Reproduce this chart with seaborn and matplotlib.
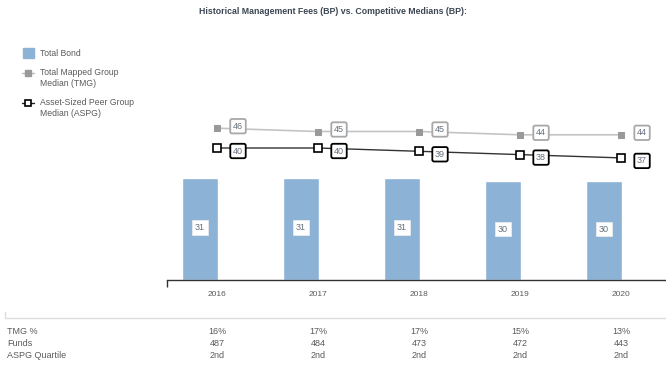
import matplotlib
matplotlib.use('Agg')
import matplotlib.pyplot as plt
import seaborn as sns
import numpy as np
from matplotlib.lines import Line2D
from matplotlib.patches import Rectangle

years = ['2016', '2017', '2018', '2019', '2020']
total_bond = [31, 31, 31, 30, 30]
tmg_median = [46, 45, 45, 44, 44]
aspg_median = [40, 40, 39, 38, 37]

table_rows = ['TMG %', 'Funds', 'ASPG Quartile']
tmg_pct = ['16%', '17%', '17%', '15%', '13%']
funds = ['487', '484', '473', '472', '443']
aspg_quartile = ['2nd', '2nd', '2nd', '2nd', '2nd']

BAR_COLOR = '#8cb3d6'
TEXT_COLOR = '#5a5a5a'
LABEL_COLOR = '#66707c'
W, H = 666, 368


def px(x, y):
    """pixel position -> figure fraction"""
    return x / W, 1 - y / H


def draw_legend(fig):
    fig.patches.append(Rectangle(px(23, 58), 11 / W, 10 / H, color=BAR_COLOR,
                                 transform=fig.transFigure))
    fig.text(*px(40, 53), 'Total Bond', fontsize=6.2, color=TEXT_COLOR, va='center')

    x0, y0 = px(22, 73)
    x1, _ = px(34, 73)
    fig.add_artist(Line2D([x0, x1], [y0, y0], color='#bbbbbb', lw=1,
                          transform=fig.transFigure))
    fig.add_artist(Line2D([(x0 + x1) / 2], [y0], marker='s', ms=5, color='#999999',
                          transform=fig.transFigure))
    fig.text(*px(40, 78), 'Total Mapped Group\nMedian (TMG)', fontsize=6.2,
             color=TEXT_COLOR, va='center', linespacing=1.4)

    x0, y0 = px(22, 103)
    fig.add_artist(Line2D([x0, x1], [y0, y0], color='#222222', lw=1,
                          transform=fig.transFigure))
    fig.add_artist(Line2D([(x0 + x1) / 2], [y0], marker='s', ms=5, mfc='white',
                          mec='black', mew=1.2, transform=fig.transFigure))
    fig.text(*px(40, 108), 'Asset-Sized Peer Group\nMedian (ASPG)', fontsize=6.2,
             color=TEXT_COLOR, va='center', linespacing=1.4)


def draw_table(fig):
    x0, y0 = px(5, 318)
    x1, _ = px(666, 318)
    fig.add_artist(Line2D([x0, x1], [y0, y0], color='#dddddd', lw=1,
                          transform=fig.transFigure))
    fig.add_artist(Line2D([x0, x0], [y0, px(5, 312)[1]], color='#dddddd', lw=1,
                          transform=fig.transFigure))
    rows = [tmg_pct, funds, aspg_quartile]
    for r, (name, vals) in enumerate(zip(table_rows, rows)):
        y = 332 + 12 * r
        fig.text(*px(7, y), name, fontsize=6.5, color=TEXT_COLOR, va='center')
        for i, v in enumerate(vals):
            fig.text(*px(217 + 101 * i, y), v, fontsize=6.5, color=TEXT_COLOR,
                     va='center', ha='center')


def main():
    sns.set_style('white')
    plt.rcParams['font.family'] = ['Liberation Sans', 'DejaVu Sans']

    fig = plt.figure(figsize=(W / 100, H / 100), dpi=100)
    ax = fig.add_axes([167 / W, (H - 280) / H, (666 - 167) / W, 165 / H])

    xs = np.arange(len(years))
    bar_x = xs - 0.168
    sns.barplot(x=bar_x, y=total_bond, native_scale=True, width=0.356,
                color=BAR_COLOR, saturation=1, ax=ax)
    sns.lineplot(x=xs, y=tmg_median, color='#c4c4c4', lw=1.2, marker='s',
                 markersize=5, markerfacecolor='#999999', markeredgecolor='#999999',
                 ax=ax)
    sns.lineplot(x=xs, y=aspg_median, color='#333333', lw=1, marker='s',
                 markersize=5.5, markerfacecolor='white', markeredgecolor='black',
                 markeredgewidth=1.2, ax=ax)

    for bx, v in zip(bar_x, total_bond):
        ax.text(bx, v / 2 + 0.4, str(v), ha='center', va='center', fontsize=6.5,
                color=LABEL_COLOR,
                bbox=dict(boxstyle='square,pad=0.3', fc='white', ec='#eeeeee', lw=0.5))
    for x, v in zip(xs, tmg_median):
        ax.annotate(str(v), (x, v), xytext=(21, 2), textcoords='offset pixels',
                    ha='center', va='center', fontsize=6.5, color=LABEL_COLOR,
                    bbox=dict(boxstyle='round,pad=0.3,rounding_size=0.2',
                              fc='white', ec='#a8a8a8', lw=1.3))
    for x, v in zip(xs, aspg_median):
        ax.annotate(str(v), (x, v), xytext=(21, -3), textcoords='offset pixels',
                    ha='center', va='center', fontsize=6.5, color=LABEL_COLOR,
                    bbox=dict(boxstyle='round,pad=0.3,rounding_size=0.2',
                              fc='white', ec='black', lw=1.3))

    ax.set_xlim(-0.495, 4.445)
    ax.set_ylim(0, 50)
    ax.set_xticks(xs)
    ax.set_xticklabels(years)
    ax.set_xticks([-0.495], minor=True)
    ax.tick_params(axis='x', which='major', length=0, pad=8, labelsize=6,
                   labelcolor=TEXT_COLOR)
    ax.tick_params(axis='x', which='minor', length=5, width=1, color='#333333',
                   bottom=True, direction='out')
    ax.set_yticks([])
    for side in ['top', 'left', 'right']:
        ax.spines[side].set_visible(False)
    ax.spines['bottom'].set_color('#333333')
    ax.spines['bottom'].set_linewidth(1)

    fig.text(0.5, 1 - 11 / H, 'Historical Management Fees (BP) vs. Competitive Medians (BP):',
             ha='center', va='center', fontsize=6.3, fontweight='bold', color='#3b4652')

    draw_legend(fig)
    draw_table(fig)

    fig.savefig('out.png', dpi=100)


if __name__ == '__main__':
    main()
